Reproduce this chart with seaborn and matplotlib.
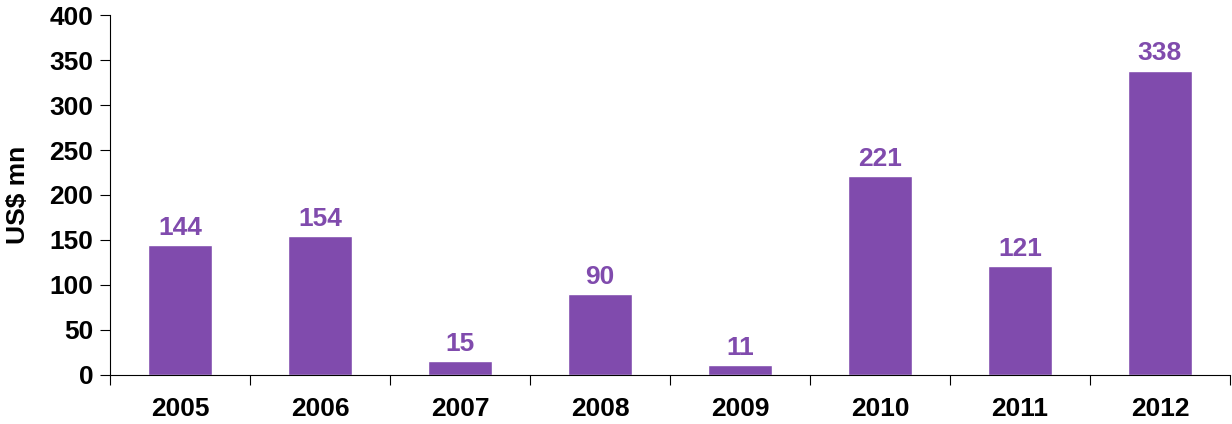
import matplotlib
matplotlib.use('Agg')
import matplotlib.pyplot as plt
import numpy as np
import pandas as pd
import seaborn as sns

years = ['2005', '2006', '2007', '2008', '2009', '2010', '2011', '2012']
values = [144, 154, 15, 90, 11, 221, 121, 338]
y_ticks = [0, 50, 100, 150, 200, 250, 300, 350, 400]

bar_color = '#804bad'
fs = 19

sns.set_style('white')
plt.rcParams['font.family'] = ['Liberation Sans', 'DejaVu Sans']
plt.rcParams['text.color'] = 'black'
plt.rcParams['xtick.color'] = 'black'
plt.rcParams['ytick.color'] = 'black'
plt.rcParams['axes.labelcolor'] = 'black'

df = pd.DataFrame({'year': years, 'value': values})

fig = plt.figure(figsize=(12.32, 4.24), dpi=100)
ax = fig.add_axes([0.0893, 0.1156, 0.909, 0.849])
sns.barplot(data=df, x='year', y='value', color=bar_color, saturation=1,
            width=0.46, ax=ax)

for i, v in enumerate(values):
    ax.text(i, v + 6, str(v), ha='center', va='bottom', color=bar_color,
            fontsize=fs, fontweight='bold')

ax.set_xlim(-0.5, len(years) - 0.5)
ax.set_ylim(0, 400)
ax.set_yticks(y_ticks)
ax.set_yticklabels([str(t) for t in y_ticks], fontsize=fs, fontweight='bold')
ax.set_xticks(range(len(years)))
ax.set_xticklabels(years, fontsize=fs, fontweight='bold')
ax.set_xticks(np.arange(-0.5, len(years), 1.0), minor=True)
ax.tick_params(axis='x', which='major', bottom=True, length=0, pad=16)
ax.tick_params(axis='x', which='minor', bottom=True, length=7, width=0.8,
               color='black', direction='out')
ax.tick_params(axis='y', which='major', left=True, length=7, width=0.8,
               color='black', direction='out', pad=5)

ax.set_xlabel('')
ax.set_ylabel('US$ mn', fontsize=fs, fontweight='bold', labelpad=14)

for side in ['top', 'right']:
    ax.spines[side].set_visible(False)
for side in ['left', 'bottom']:
    ax.spines[side].set_color('black')
    ax.spines[side].set_linewidth(0.8)

fig.savefig('out.png', dpi=100)
